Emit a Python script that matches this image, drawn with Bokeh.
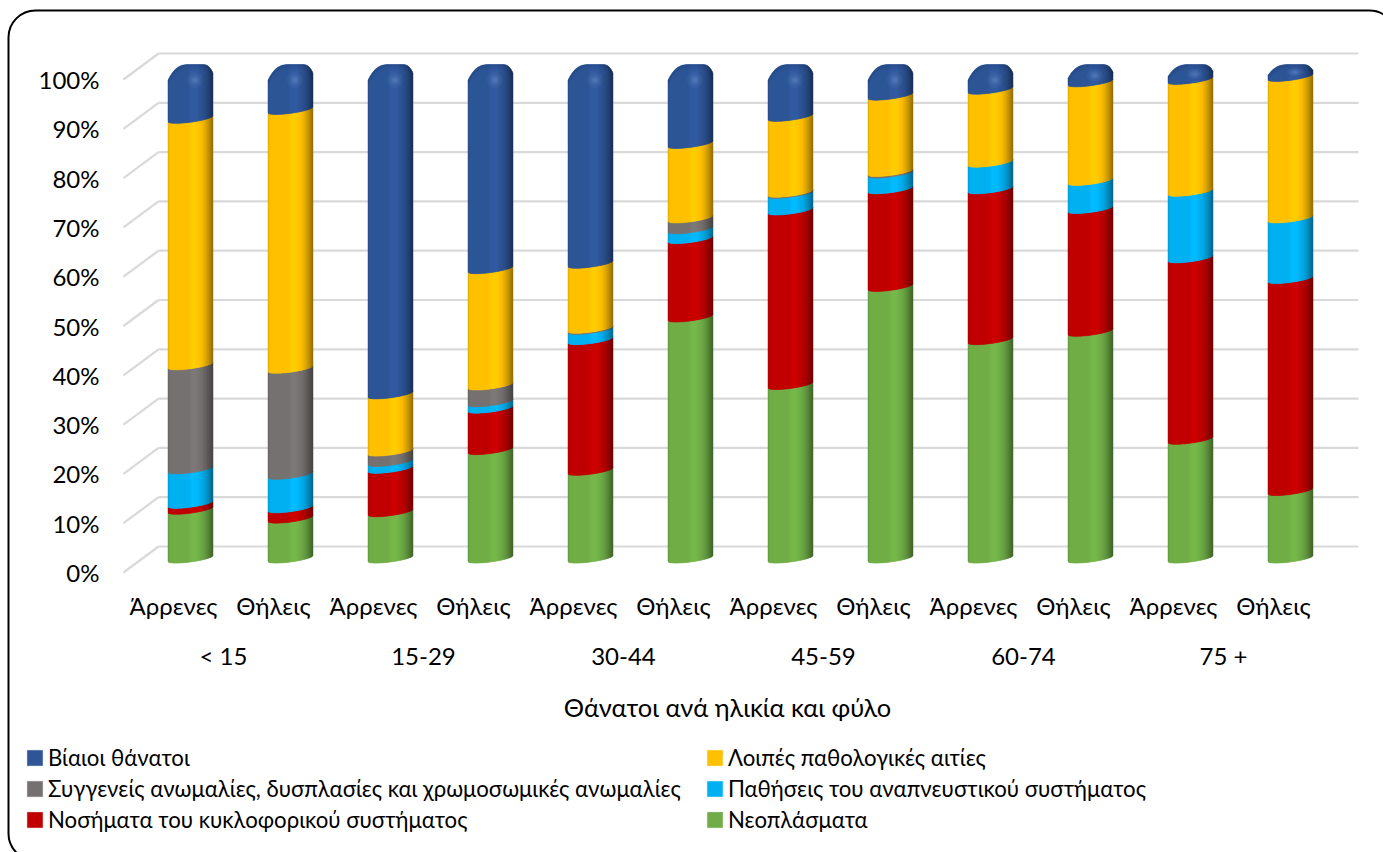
import numpy as np
from bokeh.plotting import figure
from bokeh.models import (ColumnDataSource, FixedTicker, LinearAxis, Range1d,
                          Legend, LegendItem, BoxAnnotation)
from bokeh.embed import file_html
from bokeh.resources import INLINE

FONT = "Lato"

ages = ["< 15", "15-29", "30-44", "45-59", "60-74", "75 +"]
sexes = ["Άρρενες", "Θήλεις"]
y_ticks = [0, 10, 20, 30, 40, 50, 60, 70, 80, 90, 100]
x_title = "Θάνατοι ανά ηλικία και φύλο"

# cumulative tops (%) of each stacked segment, per bar
neoplasms_top = [9.9, 8.1, 9.4, 22.0, 17.8, 48.9, 35.2, 55.1, 44.3, 46.0, 24.1, 13.7]
circulatory_top = [11.1, 10.2, 18.2, 30.4, 44.3, 64.8, 70.6, 74.9, 74.9, 70.9, 60.9, 56.7]
respiratory_top = [18.1, 17.0, 19.6, 31.7, 46.4, 66.8, 74.0, 78.1, 80.3, 76.6, 74.4, 69.0]
congenital_top = [39.2, 38.5, 21.7, 35.1, 46.6, 69.0, 74.2, 78.4, 80.3, 76.6, 74.4, 69.0]
other_top = [89.2, 91.0, 33.3, 58.7, 59.8, 84.1, 89.6, 93.9, 95.1, 96.6, 97.1, 97.7]
violent_top = [100] * 12

names = ["Νεοπλάσματα", "Νοσήματα του κυκλοφορικού συστήματος", "Παθήσεις του αναπνευστικού συστήματος",
         "Συγγενείς ανωμαλίες, δυσπλασίες και χρωμοσωμικές ανωμαλίες", "Λοιπές παθολογικές αιτίες", "Βίαιοι θάνατοι"]
tops = [neoplasms_top, circulatory_top, respiratory_top, congenital_top, other_top, violent_top]
base_colors = ["#70AD47", "#C00000", "#00B0F0", "#767171", "#FFC000", "#2F5597"]

PX = 4.93          # pixels per % on the value axis
X_PX = 100.0       # pixels per category
DEPTH_X = 35 / X_PX
DEPTH_Y = 26 / PX
BAR_W = 45 / X_PX
SHIFT_X = 17 / X_PX   # bars stand half way along the depth of the floor
SHIFT_Y = 14.0 / PX
LID_TOP = 508 / PX
N = 45             # shading strips per bar


def shade(hex_color, u):
    """Cylinder shading across a bar, u from 0 (left) to 1 (right)."""
    r, g, b = int(hex_color[1:3], 16), int(hex_color[3:5], 16), int(hex_color[5:7], 16)
    f = 1.0
    if u < 0.05:
        f = 0.88 + 0.12 * u / 0.05
    elif 0.45 < u < 0.72:
        f = 1.0 + 0.07 * np.sin(np.pi * (u - 0.45) / 0.27)
    elif u >= 0.72:
        f = 1.0 - 0.42 * ((u - 0.72) / 0.28) ** 1.4
    return "#%02x%02x%02x" % tuple(int(min(255, c * f)) for c in (r, g, b))


def floor_offset(u):
    """Curve of a cross-section, in value units, against the level of its centre."""
    return -(3 - 6 * u + 3.5 * np.sqrt(np.clip(1 - (2 * u - 1) ** 2, 0, 1))) / PX


def cap_level(u, factor):
    """Upper outline of the rounded lid, in value units below the lid top."""
    d = np.zeros_like(u)
    a = u < 0.5
    d[a] = 16 * (1 - u[a] / 0.5) ** 3
    b = u > 0.75
    d[b] = 9 * ((u[b] - 0.75) / 0.25) ** 3
    return -d * factor / PX


# the frame fills the whole canvas; axes are pinned to the data origin inside it
p = figure(width=1383, height=852, output_backend="svg", toolbar_location=None,
           x_range=Range1d(-123 / X_PX, 1260 / X_PX), y_range=Range1d(-280 / PX, 572 / PX),
           min_border_left=0, min_border_right=0, min_border_top=0, min_border_bottom=0,
           background_fill_color="white", border_fill_color="white")
p.outline_line_color = None
p.grid.visible = False

# 3-D walls: diagonal on the side wall, horizontal on the back wall
yt = np.array(y_ticks, dtype=float)
p.segment(x0=np.zeros_like(yt), y0=yt, x1=np.full_like(yt, DEPTH_X), y1=yt + DEPTH_Y,
          line_color="#D9D9D9", line_width=2.2, level="underlay")
p.segment(x0=np.full_like(yt, DEPTH_X), y0=yt + DEPTH_Y, x1=np.full_like(yt, 12.35), y1=yt + DEPTH_Y,
          line_color="#D9D9D9", line_width=2.2, level="underlay")


def lid_factor(i):
    cap_px = (LID_TOP - (other_top[i] + SHIFT_Y)) * PX + 3
    return float(np.clip(0.68 + (cap_px - 16) * 0.04, 0.68, 1.0))


# bars
renderers = []
us = np.linspace(0, 1, N + 1)
for s, name in enumerate(names):
    xs, ys, cols = [], [], []
    for i in range(12):
        low = tops[s - 1][i] if s else None
        high = tops[s][i]
        if s and high - low <= 0:
            continue
        cx = i + 0.5 + SHIFT_X
        xx = cx - BAR_W / 2 + BAR_W * us
        if s:
            lo = low + SHIFT_Y + floor_offset(us)
        else:
            lo = 0 + SHIFT_Y + floor_offset(us)
        if s == 5:
            hi = np.maximum(LID_TOP + cap_level(us, lid_factor(i)), lo)
        else:
            hi = high + SHIFT_Y + floor_offset(us)
        for k in range(N):
            xs.append([xx[k], xx[k + 1], xx[k + 1], xx[k]])
            ys.append([lo[k], lo[k + 1], hi[k + 1], hi[k]])
            cols.append(shade(base_colors[s], (k + 0.5) / N))
    r = p.patches("xs", "ys", source=ColumnDataSource(dict(xs=xs, ys=ys, c=cols)),
                  fill_color="c", line_color="c", line_width=0.5)
    renderers.append(r)

# lid shading of the top segment
for i in range(12):
    cx = i + 0.5 + SHIFT_X
    xx = cx - BAR_W / 2 + BAR_W * us
    lo = other_top[i] + SHIFT_Y + floor_offset(us)
    hi = LID_TOP + cap_level(us, lid_factor(i))
    for th, al in ((5 / PX, 0.07), (2.5 / PX, 0.09)):
        h2 = np.maximum(hi - th, lo)
        p.varea(x=xx, y1=h2, y2=np.maximum(hi, lo), fill_color="#0A1F44", fill_alpha=al)
    cap_h = LID_TOP - (other_top[i] + SHIFT_Y)
    scale = min(1.0, cap_h / (24 / PX))
    hy = LID_TOP - min(15.5 / PX, cap_h * 0.62)
    hx = cx + 0.1 * BAR_W
    for w, al in ((16, 0.07), (10, 0.10), (5, 0.14)):
        p.ellipse(x=[hx], y=[hy], width=w / X_PX, height=w * scale / PX,
                  fill_color="#9DB8E8", fill_alpha=al, line_color=None)

# axes
p.yaxis.ticker = FixedTicker(ticks=y_ticks)
p.yaxis.major_label_overrides = {v: f"{v}%" for v in y_ticks}
p.yaxis.fixed_location = 0
p.yaxis.axis_line_color = None
p.yaxis.major_tick_line_color = None
p.yaxis.minor_tick_line_color = None
p.yaxis.major_label_standoff = 18
p.yaxis.major_label_text_font = FONT
p.yaxis.major_label_text_font_size = "24px"
p.yaxis.major_label_text_color = "#000000"

x_sex = [i + 0.5 for i in range(12)]
p.xaxis.ticker = FixedTicker(ticks=x_sex)
p.xaxis.major_label_overrides = {x: sexes[i % 2] for i, x in enumerate(x_sex)}
p.xaxis.fixed_location = 0
p.xaxis.axis_line_color = None
p.xaxis.major_tick_line_color = None
p.xaxis.minor_tick_line_color = None
p.xaxis.major_label_standoff = 12
p.xaxis.major_label_text_font = FONT
p.xaxis.major_label_text_font_size = "24px"
p.xaxis.major_label_text_color = "#000000"


def label_axis(ticks, labels, standoff, size):
    ax = LinearAxis(ticker=FixedTicker(ticks=ticks), fixed_location=0,
                    major_label_overrides=dict(zip(ticks, labels)),
                    axis_line_color=None, major_tick_line_color=None, minor_tick_line_color=None,
                    major_label_standoff=standoff, major_label_text_font=FONT,
                    major_label_text_font_size=size, major_label_text_color="#000000")
    p.add_layout(ax, "below")


label_axis([2 * i + 1 for i in range(6)], ages, 62, "24px")
label_axis([6.04], [x_title], 113, "25.4px")

# legend (filled column by column)
order = [5, 3, 1, 4, 2, 0]
items = [LegendItem(label=names[s], renderers=[renderers[s]], index=12) for s in order]
legend = Legend(items=items, ncols=2, location=(25, 19), padding=0, margin=0, spacing=4,
                glyph_width=19, glyph_height=19, label_standoff=4, label_height=20, label_width=653,
                label_text_font=FONT, label_text_font_size="22.2px", label_text_color="#000000",
                background_fill_alpha=0, border_line_color=None)
p.add_layout(legend, "center")

# bevelled swatches on top of the legend's keys
SW = 15
for sx, rows in ((27, (759, 789, 819)), (708, (759, 789, 819))):
    for sy in rows:
        x0, x1 = (sx - 123) / X_PX, (sx + SW - 123) / X_PX
        y0, y1 = (572 - sy - SW / 2) / PX, (572 - sy + SW / 2) / PX
        xm, ym = (x0 + x1) / 2, (y0 + y1) / 2
        p.patches(xs=[[x0, x1, xm], [x0, x0, xm]], ys=[[y1, y1, ym], [y0, y1, ym]],
                  fill_color="#000000", fill_alpha=0.22, line_color=None, level="overlay")
        p.patches(xs=[[x0, x1, xm], [x1, x1, xm]], ys=[[y0, y0, ym], [y0, y1, ym]],
                  fill_color="#FFFFFF", fill_alpha=0.14, line_color=None, level="overlay")

# rounded chart border, running off the right and lower edges of the window
p.add_layout(BoxAnnotation(left=8, right=1396, top=10, bottom=860, left_units="canvas", right_units="canvas",
                           top_units="canvas", bottom_units="canvas", border_radius=27,
                           fill_alpha=0, line_color="#000000", line_width=2, line_alpha=1))

open("out.html", "w").write(file_html(p, INLINE))
